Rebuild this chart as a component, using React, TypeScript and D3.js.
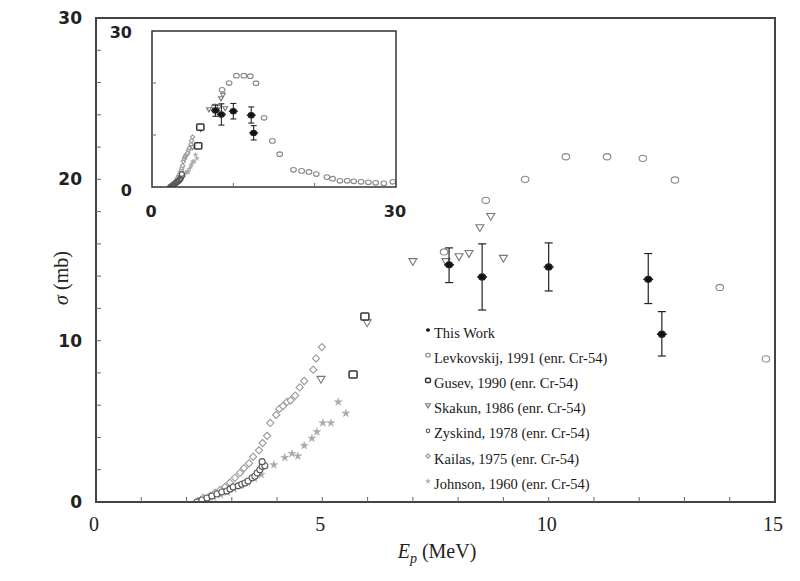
import React from 'react';
import * as d3 from 'd3';

// ---- Data: [E (MeV), sigma (mb)] ----
const thisWork = [
  // E, sigma, upper, lower
  [7.8, 14.7, 15.75, 13.6],
  [8.53, 13.95, 16.0, 11.9],
  [10.0, 14.57, 16.06, 13.08],
  [12.2, 13.8, 15.4, 12.3],
  [12.5, 10.4, 11.8, 9.05],
];
const levkovskij = [
  [7.69, 15.5], [8.61, 18.7], [9.48, 20.0], [10.38, 21.4], [11.29, 21.4], [12.08, 21.3],
  [12.79, 19.96], [13.78, 13.3], [14.8, 8.87], [15.7, 6.3], [17.4, 3.3], [18.4, 3.1],
  [19.3, 2.9], [20.2, 2.5], [21.5, 1.9], [22.2, 1.6], [23.1, 1.2], [24.0, 1.2],
  [24.8, 1.1], [25.7, 1.0], [26.6, 0.9], [27.5, 0.8], [28.5, 0.7], [29.6, 1.0],
];
const gusev = [[5.68, 7.9], [5.94, 11.5]];
const skakun = [
  [4.97, 7.6], [5.99, 11.1], [7.0, 14.9], [7.73, 14.9], [8.02, 15.2], [8.24, 15.4],
  [8.48, 17.0], [8.72, 17.7], [9.0, 15.1],
];
const zyskind = [
  [2.23, 0.0], [2.34, 0.12], [2.45, 0.25], [2.56, 0.37], [2.67, 0.5], [2.78, 0.62],
  [2.89, 0.68], [2.96, 0.8], [3.03, 0.93], [3.14, 1.0], [3.22, 1.1], [3.29, 1.18],
  [3.36, 1.3], [3.45, 1.5], [3.51, 1.6], [3.56, 1.8], [3.62, 2.0], [3.67, 2.2],
  [3.73, 2.25], [3.67, 2.5],
];
const kailas = [
  [2.25, 0.06], [2.37, 0.25], [2.52, 0.37], [2.63, 0.56], [2.74, 0.74], [2.85, 0.93],
  [2.96, 1.2], [3.07, 1.5], [3.18, 1.8], [3.27, 2.1], [3.38, 2.4], [3.47, 2.8],
  [3.6, 3.2], [3.68, 3.65], [3.78, 4.1], [3.85, 4.9], [3.98, 5.4], [4.05, 5.77],
  [4.13, 5.95], [4.22, 6.2], [4.3, 6.3], [4.4, 6.6], [4.5, 7.1], [4.6, 7.5],
  [4.8, 8.2], [4.86, 8.9], [4.99, 9.6],
];
const johnson = [
  [2.3, 0.05], [2.45, 0.15], [2.6, 0.3], [2.75, 0.45], [2.9, 0.6], [3.05, 0.8],
  [3.2, 1.0], [3.35, 1.2], [3.5, 1.45], [3.65, 1.7], [3.93, 2.3], [4.17, 2.75],
  [4.33, 3.0], [4.46, 2.85], [4.6, 3.5], [4.77, 3.95], [4.88, 4.35], [5.01, 4.9],
  [5.19, 4.9], [5.35, 6.2], [5.52, 5.5],
];

const legendLabels = [
  'This Work',
  'Levkovskij, 1991 (enr. Cr-54)',
  'Gusev, 1990 (enr. Cr-54)',
  'Skakun, 1986 (enr. Cr-54)',
  'Zyskind, 1978 (enr. Cr-54)',
  'Kailas, 1975 (enr. Cr-54)',
  'Johnson, 1960 (enr. Cr-54)',
];
const legendKinds = ['thiswork', 'circle', 'square', 'triangle', 'zcircle', 'diamond', 'star'];

const xTicksMain = [0, 5, 10, 15];
const yTicksMain = [0, 10, 20, 30];
const insetTicks = [0, 30];

const COLORS: Record<string, string> = {
  thiswork: '#111',
  circle: '#8a8a8a',
  square: '#333',
  triangle: '#777',
  zcircle: '#555',
  diamond: '#999',
  star: '#aaa',
};

const starPath = d3.symbol().type(d3.symbolStar);

function Marker({ kind, x, y, s = 1 }: { kind: string; x: number; y: number; s?: number }) {
  const c = COLORS[kind];
  const sw = 1.1;
  switch (kind) {
    case 'thiswork':
      return <ellipse cx={x} cy={y} rx={3.4 * s} ry={3 * s} fill={c} />;
    case 'circle':
      return <ellipse cx={x} cy={y} rx={3.8 * s} ry={3.1 * s} fill="white" stroke={c} strokeWidth={sw} />;
    case 'zcircle':
      return <circle cx={x} cy={y} r={3 * s} fill="white" stroke={c} strokeWidth={sw} />;
    case 'square':
      return <rect x={x - 4 * s} y={y - 3.5 * s} width={8 * s} height={7 * s} rx={1} fill="white" stroke={c} strokeWidth={1.5} />;
    case 'triangle':
      return <path d={`M${x - 4 * s},${y - 3 * s}L${x + 4 * s},${y - 3 * s}L${x},${y + 3.8 * s}Z`} fill="white" stroke={c} strokeWidth={sw} />;
    case 'diamond':
      return <path d={`M${x},${y - 3.6 * s}L${x + 3.6 * s},${y}L${x},${y + 3.6 * s}L${x - 3.6 * s},${y}Z`} fill="white" stroke={c} strokeWidth={sw} />;
    case 'star':
      return <path transform={`translate(${x},${y})`} d={starPath.size(20 * s * s)() as string} fill={c} stroke={c} strokeWidth={0.4} />;
    default:
      return null;
  }
}

type Pt = number[];

function Series({ data, kind, xs, ys, s = 1, maxE = Infinity }: { data: Pt[]; kind: string; xs: any; ys: any; s?: number; maxE?: number }) {
  return (
    <g>
      {data.filter((d) => d[0] <= maxE).map((d, i) => (
        <Marker key={i} kind={kind} x={xs(d[0])} y={ys(d[1])} s={s} />
      ))}
    </g>
  );
}

function ThisWork({ xs, ys, s = 1, cap = 4 }: { xs: any; ys: any; s?: number; cap?: number }) {
  return (
    <g stroke="#222" strokeWidth={1.2 * s}>
      {thisWork.map((d, i) => {
        const x = xs(d[0]);
        return (
          <g key={i}>
            <line x1={x} x2={x} y1={ys(d[2])} y2={ys(d[3])} />
            <line x1={x - cap} x2={x + cap} y1={ys(d[2])} y2={ys(d[2])} />
            <line x1={x - cap} x2={x + cap} y1={ys(d[3])} y2={ys(d[3])} />
            <line x1={x - 5 * s} x2={x + 5 * s} y1={ys(d[1])} y2={ys(d[1])} strokeWidth={1.5 * s} />
            <Marker kind="thiswork" x={x} y={ys(d[1])} s={s} />
          </g>
        );
      })}
    </g>
  );
}

export default function App() {
  const W = 800, H = 581;
  const x = d3.scaleLinear().domain([0, 15]).range([96, 775]);
  const y = d3.scaleLinear().domain([0, 30]).range([502, 18]);
  const xi = d3.scaleLinear().domain([0, 30]).range([152, 396]);
  const yi = d3.scaleLinear().domain([0, 30]).range([187, 31]);

  const xMinor = d3.range(1, 15);
  const yMinor = d3.range(2, 30, 2);
  const insetMinor = [10, 20];

  const serif = "'Liberation Serif', 'Times New Roman', serif";
  const sans = "'DejaVu Sans', Verdana, sans-serif";

  const legendY0 = 333;
  const legendDy = 25.2;

  return (
    <svg width={W} height={H} style={{ position: 'absolute', left: 0, top: 0, background: 'white' }}>
      <defs>
        <clipPath id="mainClip"><rect x={96} y={18} width={679} height={484} /></clipPath>
        <clipPath id="insetClip"><rect x={152} y={31} width={244} height={156} /></clipPath>
      </defs>

      {/* main data */}
      <g clipPath="url(#mainClip)">
        <Series data={johnson} kind="star" xs={x} ys={y} />
        <Series data={kailas} kind="diamond" xs={x} ys={y} />
        <Series data={zyskind} kind="zcircle" xs={x} ys={y} />
        <Series data={skakun} kind="triangle" xs={x} ys={y} />
        <Series data={gusev} kind="square" xs={x} ys={y} />
        <Series data={levkovskij} kind="circle" xs={x} ys={y} maxE={15} />
        <ThisWork xs={x} ys={y} />
      </g>

      {/* main frame */}
      <rect x={96} y={18} width={679} height={484} fill="none" stroke="#444" strokeWidth={2} />
      <g stroke="#666" strokeWidth={1}>
        {xMinor.map((t) => (
          <line key={'xm' + t} x1={x(t)} x2={x(t)} y1={502} y2={497} />
        ))}
        {yMinor.map((t) => (
          <line key={'ym' + t} x1={96} x2={101} y1={y(t)} y2={y(t)} />
        ))}
      </g>
      <g fontFamily={sans} fontWeight="bold" fontSize={17} fill="#222" textAnchor="end">
        {yTicksMain.map((t) => (
          <text key={t} x={82} y={y(t) + 6}>{t}</text>
        ))}
      </g>
      <g fontFamily={serif} fontSize={20} fill="#222" textAnchor="middle">
        {xTicksMain.map((t) => (
          <text key={t} x={x(t) - 2} y={531}>{t}</text>
        ))}
      </g>
      <text x={437} y={558} textAnchor="middle" fontFamily={serif} fontSize={20} fill="#222">
        <tspan fontStyle="italic">E</tspan>
        <tspan fontStyle="italic" fontSize={14} dy={5}>p</tspan>
        <tspan dy={-5}> (MeV)</tspan>
      </text>
      <text transform="translate(68,278) rotate(-90)" textAnchor="middle" fontFamily={serif} fontSize={20} fill="#222">
        <tspan fontStyle="italic">σ</tspan>
        <tspan> (mb)</tspan>
      </text>

      {/* inset */}
      <rect x={152} y={31} width={244} height={156} fill="white" />
      <g clipPath="url(#insetClip)">
        <Series data={johnson} kind="star" xs={xi} ys={yi} s={0.6} />
        <Series data={kailas} kind="diamond" xs={xi} ys={yi} s={0.6} />
        <Series data={zyskind} kind="zcircle" xs={xi} ys={yi} s={0.8} />
        <Series data={skakun} kind="triangle" xs={xi} ys={yi} s={0.6} />
        <Series data={gusev} kind="square" xs={xi} ys={yi} s={0.9} />
        <Series data={levkovskij} kind="circle" xs={xi} ys={yi} s={0.75} />
        <ThisWork xs={xi} ys={yi} s={0.9} cap={3} />
      </g>
      <rect x={152} y={31} width={244} height={156} fill="none" stroke="#333" strokeWidth={1.5} />
      <g stroke="#666" strokeWidth={1}>
        {insetMinor.map((t) => (
          <line key={'ix' + t} x1={xi(t)} x2={xi(t)} y1={187} y2={183} />
        ))}
        {insetMinor.map((t) => (
          <line key={'iy' + t} x1={152} x2={156} y1={yi(t)} y2={yi(t)} />
        ))}
      </g>
      <g fontFamily={sans} fontWeight="bold" fontSize={16} fill="#222">
        {insetTicks.map((t) => (
          <text key={'iyl' + t} x={132} y={yi(t) + 6 + (t === 0 ? 3 : 1)} textAnchor="end">{t}</text>
        ))}
        {insetTicks.map((t) => (
          <text key={'ixl' + t} x={xi(t) - 1} y={217} textAnchor="middle">{t}</text>
        ))}
      </g>

      {/* legend */}
      <g>
        {legendLabels.map((lab, i) => {
          const cy = legendY0 + i * legendDy;
          return (
            <g key={lab}>
              <Marker kind={legendKinds[i]} x={428} y={cy - 3} s={0.6} />
              <text x={434} y={cy + 4.5} fontFamily={serif} fontSize={14.5} fill="#1a1a1a">{lab}</text>
            </g>
          );
        })}
      </g>
    </svg>
  );
}
